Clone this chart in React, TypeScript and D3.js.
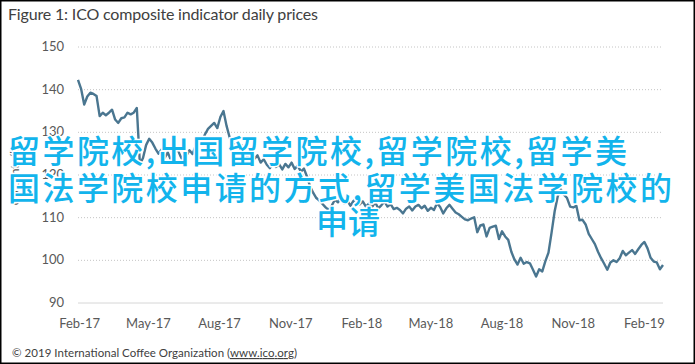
import { useEffect, useRef } from 'react';
import * as d3 from 'd3';

// ICO composite indicator, sampled every 4 days from 30 Jan 2017
const startDate = new Date(2017, 0, 30);
const stepDays = 4;
const prices = [
  142.3, 140.2, 136.5, 138.4, 139.3, 139.0, 138.5, 133.8, 134.6, 134.0,
  134.6, 135.3, 133.0, 132.2, 133.3, 133.5, 134.6, 134.2, 134.6, 135.7,
  122.5, 124.0, 127.0, 128.5, 127.6, 126.2, 125.0, 126.0, 124.0, 125.3,
  123.5, 124.8, 126.3, 124.6, 123.2, 124.5, 125.8, 124.9, 126.8, 128.2,
  127.6, 129.5, 130.8, 131.5, 132.2, 131.0, 133.6, 135.0, 131.5, 128.8,
  127.0, 128.2, 126.0, 126.9, 125.1, 124.0, 125.4, 123.8, 124.6, 122.9,
  123.7, 122.4, 121.6, 122.8, 121.9, 122.5, 121.3, 122.6, 121.8, 122.9,
  121.4, 122.2, 120.8, 121.5, 119.6, 117.3, 115.8, 114.6, 114.0, 113.2,
  112.4, 111.8, 112.9, 114.2, 113.6, 114.8, 113.4, 114.0, 112.8, 113.9,
  114.5, 113.1, 113.8, 112.6, 113.3, 112.5, 113.6, 112.2, 112.9, 113.8,
  112.6, 113.2, 112.0, 112.3, 111.8, 111.0, 112.1, 112.6, 111.7, 112.6,
  113.0, 112.2, 112.8, 111.6, 112.3, 111.8, 113.4, 112.5, 111.0, 112.2,
  113.0, 112.1, 111.2, 110.8, 110.2, 109.6, 109.4, 109.8, 110.1, 106.6,
  108.2, 108.4, 105.6, 107.6, 107.9, 108.1, 105.0, 106.8, 105.6, 104.8,
  102.0, 100.2, 99.0, 100.6, 99.2, 99.6, 99.3, 97.8, 96.2, 97.9,
  97.4, 99.8, 101.8, 106.5, 111.5, 115.0, 116.6, 115.4, 114.6, 112.6,
  112.4, 112.8, 109.4, 109.5, 108.4, 106.2, 105.0, 103.8, 102.0, 100.5,
  99.2, 97.8, 99.5, 100.0, 99.6, 100.5, 102.2, 101.2, 101.8, 102.4,
  101.5, 102.6, 103.6, 104.3, 102.8, 100.6, 99.7, 99.5, 97.9, 98.9,
];
const yTicks = [90, 100, 110, 120, 130, 140, 150];
const tickMonths = d3.timeMonth.range(new Date(2017, 1, 1), new Date(2019, 2, 1), 3);

const title = 'Figure 1: ICO composite indicator daily prices';
const yLabel = 'US cents/lb';
const footer = '\u00a9 2019 International Coffee Organization (';
const footerLink = 'www.ico.org';
const overlayLines = [
  '留学院校,出国留学院校,留学院校,留学美',
  '国法学院校申请的方式,留学美国法学院校的',
  '申请',
];

const W = 695;
const H = 364;

const App = () => {
  const svgRef = useRef<SVGSVGElement>(null);

  useEffect(() => {
    if (!svgRef.current) return;
    const svg = d3.select(svgRef.current);
    svg.selectAll('*').remove();

    const data = prices.map((v, i) => ({ date: d3.timeDay.offset(startDate, i * stepDays), value: v }));

    const x = d3.scaleTime()
      .domain(d3.extent(data, d => d.date) as [Date, Date])
      .range([78, 663]);
    const y = d3.scaleLinear().domain([90, 150]).range([303, 47]);

    svg.append('rect')
      .attr('width', W).attr('height', H).attr('fill', '#fff');

    // title
    svg.append('text')
      .attr('x', 8).attr('y', 20)
      .attr('textLength', 310)
      .style('font-family', 'Lato, "Open Sans", sans-serif')
      .style('font-size', '16px')
      .style('fill', '#404040')
      .text(title);

    // gridlines
    svg.append('g')
      .selectAll('line')
      .data(yTicks.slice(1))
      .join('line')
      .attr('x1', 78).attr('x2', 663)
      .attr('y1', d => y(d)).attr('y2', d => y(d))
      .attr('stroke', '#c4c4c4')
      .attr('stroke-width', 1)
      .attr('stroke-dasharray', '1,2');

    // x axis line
    svg.append('line')
      .attr('x1', 78).attr('x2', 663)
      .attr('y1', y(90)).attr('y2', y(90))
      .attr('stroke', '#d6d6d6');

    // y tick labels
    svg.append('g')
      .selectAll('text')
      .data(yTicks)
      .join('text')
      .attr('x', 64)
      .attr('y', d => y(d) + 4)
      .attr('text-anchor', 'end')
      .style('font-family', 'Lato, "Open Sans", sans-serif')
      .style('font-size', '13px')
      .style('fill', '#595959')
      .text(d => d);

    // x tick labels
    svg.append('g')
      .selectAll('text')
      .data(tickMonths)
      .join('text')
      .attr('x', d => x(d))
      .attr('y', 328)
      .attr('text-anchor', 'middle')
      .style('font-family', 'Lato, "Open Sans", sans-serif')
      .style('font-size', '13px')
      .style('fill', '#595959')
      .text(d => d3.timeFormat('%b-%y')(d));

    // y axis title
    svg.append('text')
      .attr('transform', `translate(19,${(y(90) + y(150)) / 2}) rotate(-90)`)
      .attr('text-anchor', 'middle')
      .style('font-family', 'Lato, "Open Sans", sans-serif')
      .style('font-size', '12px')
      .style('fill', '#595959')
      .text(yLabel);

    // price line
    const line = d3.line<{ date: Date; value: number }>()
      .x(d => x(d.date))
      .y(d => y(d.value));

    svg.append('path')
      .datum(data)
      .attr('d', line)
      .attr('fill', 'none')
      .attr('stroke', '#4a7690')
      .attr('stroke-width', 2.4)
      .attr('stroke-linejoin', 'round');

    // footer
    const foot = svg.append('text')
      .attr('x', 12).attr('y', 357)
      .attr('textLength', 285)
      .style('font-family', 'Lato, "Open Sans", sans-serif')
      .style('font-size', '11.5px')
      .style('fill', '#404040');
    foot.append('tspan').text(footer);
    foot.append('tspan').style('text-decoration', 'underline').text(footerLink);
    foot.append('tspan').text(')');

    // overlay text
    const overlay = svg.append('g')
      .style('font-family', '"Noto Sans CJK SC", sans-serif')
      .style('font-size', '32px')
      .style('font-weight', '500')
      .style('fill', '#12b4ec')
      .style('stroke', '#ffffff')
      .style('stroke-width', '3px')
      .style('paint-order', 'stroke')
      .style('stroke-linejoin', 'round');

    overlay.append('text')
      .attr('x', 8).attr('y', 163)
      .attr('textLength', 619)
      .text(overlayLines[0]);
    overlay.append('text')
      .attr('x', 8).attr('y', 200)
      .attr('textLength', 664)
      .text(overlayLines[1]);
    overlay.append('text')
      .attr('x', 348).attr('y', 234)
      .attr('text-anchor', 'middle')
      .text(overlayLines[2]);

    // frame
    svg.append('rect')
      .attr('x', 0.75).attr('y', 0.75)
      .attr('width', W - 1.5).attr('height', H - 1.5)
      .attr('fill', 'none')
      .attr('stroke', '#000')
      .attr('stroke-width', 1.5);
  }, []);

  return (
    <div style={{ position: 'fixed', left: 0, top: 0 }}>
      <svg ref={svgRef} width={W} height={H} style={{ display: 'block' }} />
    </div>
  );
};

export default App;
